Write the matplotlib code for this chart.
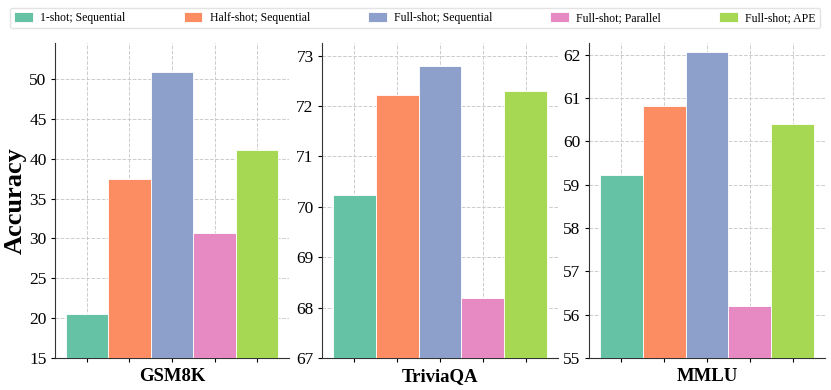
import numpy as np
import matplotlib
matplotlib.use("Agg")
import matplotlib.pyplot as plt

plt.rcParams['font.family'] = ['Liberation Serif', 'DejaVu Serif']

datasets = ['GSM8K', 'TriviaQA', 'MMLU']
methods = ['1-shot; Sequential', 'Half-shot; Sequential', 'Full-shot; Sequential',
           'Full-shot; Parallel', 'Full-shot; APE']
colors = ['#66c2a5', '#fc8d62', '#8da0cb', '#e78ac3', '#a6d854']

gsm8k = [20.5, 37.5, 50.9, 30.7, 41.1]
triviaqa = [70.23, 72.21, 72.8, 68.19, 72.3]
mmlu = [59.22, 60.82, 62.06, 56.19, 60.4]
values = [gsm8k, triviaqa, mmlu]
ylims = [(15, 54.5), (67, 73.25), (55, 62.27)]
yticks = [np.arange(15, 51, 5), np.arange(67, 74, 1), np.arange(55, 63, 1)]

fig = plt.figure(figsize=(8.31, 3.9), dpi=100)
W, H = 831, 390
boxes = [(55, 289), (322, 558), (589, 825)]
top, bottom = 43, 358

x = np.arange(len(methods))
for i, (l, r) in enumerate(boxes):
    ax = fig.add_axes([l / W, 1 - bottom / H, (r - l) / W, (bottom - top) / H])
    bars = ax.bar(x, values[i], width=1.0, color=colors, edgecolor='white',
                  linewidth=0.6, zorder=3)
    ax.set_xlim(-0.75, 4.75)
    ax.set_ylim(*ylims[i])
    ax.set_yticks(yticks[i])
    ax.set_xticks(x)
    ax.set_xticklabels([])
    ax.set_xlabel(datasets[i], fontsize=13.5, fontweight='bold', labelpad=1)
    ax.grid(True, linestyle='--', color='#cccccc', linewidth=0.7, zorder=0)
    ax.spines['top'].set_visible(False)
    ax.spines['right'].set_visible(False)
    for s in ['left', 'bottom']:
        ax.spines[s].set_color('#333333')
    ax.tick_params(axis='y', labelsize=12.5, length=3, pad=3)
    ax.tick_params(axis='x', length=3)
    if i == 0:
        ax.set_ylabel('Accuracy', fontsize=19, fontweight='bold')
        ax.yaxis.set_label_coords(-0.122, 0.5)
        handles = bars

# legend box spans x 10..820, y 5..28 px
fig.legend(handles, methods, loc='lower left', ncol=5, fontsize=8.5,
           bbox_to_anchor=(10 / W, 1 - 28 / H, 810 / W, 23 / H), mode='expand',
           frameon=True, fancybox=True, handlelength=1.6, handleheight=0.9,
           handletextpad=0.6, borderpad=0.35, borderaxespad=0,
           edgecolor='#dddddd')

fig.savefig('out.png', dpi=100)
